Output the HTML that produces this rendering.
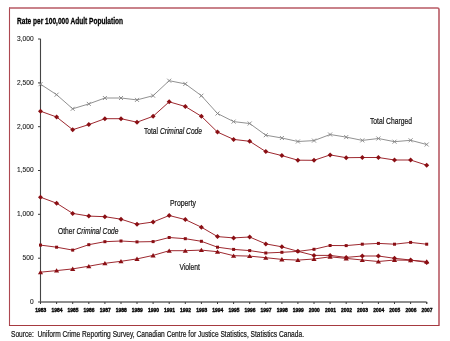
<!DOCTYPE html>
<html><head><meta charset="utf-8"><style>
html,body{margin:0;padding:0;background:#fff;width:450px;height:341px;overflow:hidden;}
svg{display:block;will-change:transform;font-family:"Liberation Sans", sans-serif;}
</style></head><body><svg width="450" height="341" viewBox="0 0 450 341"><path d="M9.5,7.6V326" stroke="#ad4850" stroke-width="1.1"/><path d="M9,8H437.5Q439,8 439,9.5V326" fill="none" stroke="#b85a64" stroke-width="1.6"/><path d="M9,325.5H439" stroke="#a63a40" stroke-width="1.1"/><text x="17" y="23.7" font-family="Liberation Sans, sans-serif" font-size="8.7" font-weight="bold" textLength="106" stroke="#000" stroke-width="0.3" lengthAdjust="spacingAndGlyphs" fill="#000">Rate per 100,000 Adult Population</text><path d="M40.5,38.8V302" fill="none" stroke="#444" stroke-width="1.1"/><path d="M40.5,302H425.8Q426.9,302 426.9,303.4" fill="none" stroke="#6a6a6a" stroke-width="1.5"/><path d="M38,302.0H40.3" stroke="#3a3a3a" stroke-width="1"/><text x="33.6" y="303.8" font-family="Liberation Sans, sans-serif" font-size="7.2" text-anchor="end" fill="#222" stroke="#222" stroke-width="0.12" textLength="3.68" lengthAdjust="spacingAndGlyphs">0</text><path d="M38,258.2H40.3" stroke="#3a3a3a" stroke-width="1"/><text x="33.6" y="260.0" font-family="Liberation Sans, sans-serif" font-size="7.2" text-anchor="end" fill="#222" stroke="#222" stroke-width="0.12" textLength="11.05" lengthAdjust="spacingAndGlyphs">500</text><path d="M38,214.3H40.3" stroke="#3a3a3a" stroke-width="1"/><text x="33.6" y="216.1" font-family="Liberation Sans, sans-serif" font-size="7.2" text-anchor="end" fill="#222" stroke="#222" stroke-width="0.12" textLength="16.57" lengthAdjust="spacingAndGlyphs">1,000</text><path d="M38,170.5H40.3" stroke="#3a3a3a" stroke-width="1"/><text x="33.6" y="172.3" font-family="Liberation Sans, sans-serif" font-size="7.2" text-anchor="end" fill="#222" stroke="#222" stroke-width="0.12" textLength="16.57" lengthAdjust="spacingAndGlyphs">1,500</text><path d="M38,126.7H40.3" stroke="#3a3a3a" stroke-width="1"/><text x="33.6" y="128.5" font-family="Liberation Sans, sans-serif" font-size="7.2" text-anchor="end" fill="#222" stroke="#222" stroke-width="0.12" textLength="16.57" lengthAdjust="spacingAndGlyphs">2,000</text><path d="M38,82.9H40.3" stroke="#3a3a3a" stroke-width="1"/><text x="33.6" y="84.7" font-family="Liberation Sans, sans-serif" font-size="7.2" text-anchor="end" fill="#222" stroke="#222" stroke-width="0.12" textLength="16.57" lengthAdjust="spacingAndGlyphs">2,500</text><path d="M38,39.0H40.3" stroke="#3a3a3a" stroke-width="1"/><text x="33.6" y="40.8" font-family="Liberation Sans, sans-serif" font-size="7.2" text-anchor="end" fill="#222" stroke="#222" stroke-width="0.12" textLength="16.57" lengthAdjust="spacingAndGlyphs">3,000</text><path d="M40.5,302.0V304.0" stroke="#3a3a3a" stroke-width="1"/><text x="40.8" y="311.9" font-family="Liberation Sans, sans-serif" font-size="6.0" font-weight="bold" text-anchor="middle" textLength="11" stroke="#000" stroke-width="0.4" lengthAdjust="spacingAndGlyphs" fill="#111">1983</text><path d="M56.6,302.0V304.0" stroke="#3a3a3a" stroke-width="1"/><text x="56.9" y="311.9" font-family="Liberation Sans, sans-serif" font-size="6.0" font-weight="bold" text-anchor="middle" textLength="11" stroke="#000" stroke-width="0.4" lengthAdjust="spacingAndGlyphs" fill="#111">1984</text><path d="M72.7,302.0V304.0" stroke="#3a3a3a" stroke-width="1"/><text x="73.0" y="311.9" font-family="Liberation Sans, sans-serif" font-size="6.0" font-weight="bold" text-anchor="middle" textLength="11" stroke="#000" stroke-width="0.4" lengthAdjust="spacingAndGlyphs" fill="#111">1985</text><path d="M88.8,302.0V304.0" stroke="#3a3a3a" stroke-width="1"/><text x="89.1" y="311.9" font-family="Liberation Sans, sans-serif" font-size="6.0" font-weight="bold" text-anchor="middle" textLength="11" stroke="#000" stroke-width="0.4" lengthAdjust="spacingAndGlyphs" fill="#111">1986</text><path d="M104.9,302.0V304.0" stroke="#3a3a3a" stroke-width="1"/><text x="105.2" y="311.9" font-family="Liberation Sans, sans-serif" font-size="6.0" font-weight="bold" text-anchor="middle" textLength="11" stroke="#000" stroke-width="0.4" lengthAdjust="spacingAndGlyphs" fill="#111">1987</text><path d="M121.0,302.0V304.0" stroke="#3a3a3a" stroke-width="1"/><text x="121.2" y="311.9" font-family="Liberation Sans, sans-serif" font-size="6.0" font-weight="bold" text-anchor="middle" textLength="11" stroke="#000" stroke-width="0.4" lengthAdjust="spacingAndGlyphs" fill="#111">1988</text><path d="M137.0,302.0V304.0" stroke="#3a3a3a" stroke-width="1"/><text x="137.3" y="311.9" font-family="Liberation Sans, sans-serif" font-size="6.0" font-weight="bold" text-anchor="middle" textLength="11" stroke="#000" stroke-width="0.4" lengthAdjust="spacingAndGlyphs" fill="#111">1989</text><path d="M153.1,302.0V304.0" stroke="#3a3a3a" stroke-width="1"/><text x="153.4" y="311.9" font-family="Liberation Sans, sans-serif" font-size="6.0" font-weight="bold" text-anchor="middle" textLength="11" stroke="#000" stroke-width="0.4" lengthAdjust="spacingAndGlyphs" fill="#111">1990</text><path d="M169.2,302.0V304.0" stroke="#3a3a3a" stroke-width="1"/><text x="169.5" y="311.9" font-family="Liberation Sans, sans-serif" font-size="6.0" font-weight="bold" text-anchor="middle" textLength="11" stroke="#000" stroke-width="0.4" lengthAdjust="spacingAndGlyphs" fill="#111">1991</text><path d="M185.3,302.0V304.0" stroke="#3a3a3a" stroke-width="1"/><text x="185.6" y="311.9" font-family="Liberation Sans, sans-serif" font-size="6.0" font-weight="bold" text-anchor="middle" textLength="11" stroke="#000" stroke-width="0.4" lengthAdjust="spacingAndGlyphs" fill="#111">1992</text><path d="M201.4,302.0V304.0" stroke="#3a3a3a" stroke-width="1"/><text x="201.7" y="311.9" font-family="Liberation Sans, sans-serif" font-size="6.0" font-weight="bold" text-anchor="middle" textLength="11" stroke="#000" stroke-width="0.4" lengthAdjust="spacingAndGlyphs" fill="#111">1993</text><path d="M217.5,302.0V304.0" stroke="#3a3a3a" stroke-width="1"/><text x="217.8" y="311.9" font-family="Liberation Sans, sans-serif" font-size="6.0" font-weight="bold" text-anchor="middle" textLength="11" stroke="#000" stroke-width="0.4" lengthAdjust="spacingAndGlyphs" fill="#111">1994</text><path d="M233.6,302.0V304.0" stroke="#3a3a3a" stroke-width="1"/><text x="233.9" y="311.9" font-family="Liberation Sans, sans-serif" font-size="6.0" font-weight="bold" text-anchor="middle" textLength="11" stroke="#000" stroke-width="0.4" lengthAdjust="spacingAndGlyphs" fill="#111">1995</text><path d="M249.7,302.0V304.0" stroke="#3a3a3a" stroke-width="1"/><text x="250.0" y="311.9" font-family="Liberation Sans, sans-serif" font-size="6.0" font-weight="bold" text-anchor="middle" textLength="11" stroke="#000" stroke-width="0.4" lengthAdjust="spacingAndGlyphs" fill="#111">1996</text><path d="M265.8,302.0V304.0" stroke="#3a3a3a" stroke-width="1"/><text x="266.1" y="311.9" font-family="Liberation Sans, sans-serif" font-size="6.0" font-weight="bold" text-anchor="middle" textLength="11" stroke="#000" stroke-width="0.4" lengthAdjust="spacingAndGlyphs" fill="#111">1997</text><path d="M281.9,302.0V304.0" stroke="#3a3a3a" stroke-width="1"/><text x="282.2" y="311.9" font-family="Liberation Sans, sans-serif" font-size="6.0" font-weight="bold" text-anchor="middle" textLength="11" stroke="#000" stroke-width="0.4" lengthAdjust="spacingAndGlyphs" fill="#111">1998</text><path d="M297.9,302.0V304.0" stroke="#3a3a3a" stroke-width="1"/><text x="298.2" y="311.9" font-family="Liberation Sans, sans-serif" font-size="6.0" font-weight="bold" text-anchor="middle" textLength="11" stroke="#000" stroke-width="0.4" lengthAdjust="spacingAndGlyphs" fill="#111">1999</text><path d="M314.0,302.0V304.0" stroke="#3a3a3a" stroke-width="1"/><text x="314.3" y="311.9" font-family="Liberation Sans, sans-serif" font-size="6.0" font-weight="bold" text-anchor="middle" textLength="11" stroke="#000" stroke-width="0.4" lengthAdjust="spacingAndGlyphs" fill="#111">2000</text><path d="M330.1,302.0V304.0" stroke="#3a3a3a" stroke-width="1"/><text x="330.4" y="311.9" font-family="Liberation Sans, sans-serif" font-size="6.0" font-weight="bold" text-anchor="middle" textLength="11" stroke="#000" stroke-width="0.4" lengthAdjust="spacingAndGlyphs" fill="#111">2001</text><path d="M346.2,302.0V304.0" stroke="#3a3a3a" stroke-width="1"/><text x="346.5" y="311.9" font-family="Liberation Sans, sans-serif" font-size="6.0" font-weight="bold" text-anchor="middle" textLength="11" stroke="#000" stroke-width="0.4" lengthAdjust="spacingAndGlyphs" fill="#111">2002</text><path d="M362.3,302.0V304.0" stroke="#3a3a3a" stroke-width="1"/><text x="362.6" y="311.9" font-family="Liberation Sans, sans-serif" font-size="6.0" font-weight="bold" text-anchor="middle" textLength="11" stroke="#000" stroke-width="0.4" lengthAdjust="spacingAndGlyphs" fill="#111">2003</text><path d="M378.4,302.0V304.0" stroke="#3a3a3a" stroke-width="1"/><text x="378.7" y="311.9" font-family="Liberation Sans, sans-serif" font-size="6.0" font-weight="bold" text-anchor="middle" textLength="11" stroke="#000" stroke-width="0.4" lengthAdjust="spacingAndGlyphs" fill="#111">2004</text><path d="M394.5,302.0V304.0" stroke="#3a3a3a" stroke-width="1"/><text x="394.8" y="311.9" font-family="Liberation Sans, sans-serif" font-size="6.0" font-weight="bold" text-anchor="middle" textLength="11" stroke="#000" stroke-width="0.4" lengthAdjust="spacingAndGlyphs" fill="#111">2005</text><path d="M410.6,302.0V304.0" stroke="#3a3a3a" stroke-width="1"/><text x="410.9" y="311.9" font-family="Liberation Sans, sans-serif" font-size="6.0" font-weight="bold" text-anchor="middle" textLength="11" stroke="#000" stroke-width="0.4" lengthAdjust="spacingAndGlyphs" fill="#111">2006</text><path d="M426.7,302.0V304.0" stroke="#3a3a3a" stroke-width="1"/><text x="427.0" y="311.9" font-family="Liberation Sans, sans-serif" font-size="6.0" font-weight="bold" text-anchor="middle" textLength="11" stroke="#000" stroke-width="0.4" lengthAdjust="spacingAndGlyphs" fill="#111">2007</text><polyline points="40.5,84.2 56.6,94.7 72.7,108.8 88.8,103.9 104.9,98.0 121.0,98.0 137.0,99.9 153.1,95.7 169.2,80.7 185.3,83.9 201.4,95.7 217.5,113.5 233.6,121.6 249.7,123.5 265.8,135.2 281.9,138.0 297.9,141.5 314.0,140.6 330.1,134.5 346.2,137.1 362.3,140.4 378.4,138.5 394.5,141.7 410.6,140.3 426.7,144.5" fill="none" stroke="#858585" stroke-width="0.9" stroke-linejoin="round"/><path d="M38.5,82.2L42.5,86.2M42.5,82.2L38.5,86.2" stroke="#858585" stroke-width="0.9" fill="none"/><path d="M54.6,92.7L58.6,96.7M58.6,92.7L54.6,96.7" stroke="#858585" stroke-width="0.9" fill="none"/><path d="M70.7,106.8L74.7,110.8M74.7,106.8L70.7,110.8" stroke="#858585" stroke-width="0.9" fill="none"/><path d="M86.8,101.9L90.8,105.9M90.8,101.9L86.8,105.9" stroke="#858585" stroke-width="0.9" fill="none"/><path d="M102.9,96.0L106.9,100.0M106.9,96.0L102.9,100.0" stroke="#858585" stroke-width="0.9" fill="none"/><path d="M119.0,96.0L123.0,100.0M123.0,96.0L119.0,100.0" stroke="#858585" stroke-width="0.9" fill="none"/><path d="M135.0,97.9L139.0,101.9M139.0,97.9L135.0,101.9" stroke="#858585" stroke-width="0.9" fill="none"/><path d="M151.1,93.7L155.1,97.7M155.1,93.7L151.1,97.7" stroke="#858585" stroke-width="0.9" fill="none"/><path d="M167.2,78.7L171.2,82.7M171.2,78.7L167.2,82.7" stroke="#858585" stroke-width="0.9" fill="none"/><path d="M183.3,81.9L187.3,85.9M187.3,81.9L183.3,85.9" stroke="#858585" stroke-width="0.9" fill="none"/><path d="M199.4,93.7L203.4,97.7M203.4,93.7L199.4,97.7" stroke="#858585" stroke-width="0.9" fill="none"/><path d="M215.5,111.5L219.5,115.5M219.5,111.5L215.5,115.5" stroke="#858585" stroke-width="0.9" fill="none"/><path d="M231.6,119.6L235.6,123.6M235.6,119.6L231.6,123.6" stroke="#858585" stroke-width="0.9" fill="none"/><path d="M247.7,121.5L251.7,125.5M251.7,121.5L247.7,125.5" stroke="#858585" stroke-width="0.9" fill="none"/><path d="M263.8,133.2L267.8,137.2M267.8,133.2L263.8,137.2" stroke="#858585" stroke-width="0.9" fill="none"/><path d="M279.9,136.0L283.9,140.0M283.9,136.0L279.9,140.0" stroke="#858585" stroke-width="0.9" fill="none"/><path d="M295.9,139.5L299.9,143.5M299.9,139.5L295.9,143.5" stroke="#858585" stroke-width="0.9" fill="none"/><path d="M312.0,138.6L316.0,142.6M316.0,138.6L312.0,142.6" stroke="#858585" stroke-width="0.9" fill="none"/><path d="M328.1,132.5L332.1,136.5M332.1,132.5L328.1,136.5" stroke="#858585" stroke-width="0.9" fill="none"/><path d="M344.2,135.1L348.2,139.1M348.2,135.1L344.2,139.1" stroke="#858585" stroke-width="0.9" fill="none"/><path d="M360.3,138.4L364.3,142.4M364.3,138.4L360.3,142.4" stroke="#858585" stroke-width="0.9" fill="none"/><path d="M376.4,136.5L380.4,140.5M380.4,136.5L376.4,140.5" stroke="#858585" stroke-width="0.9" fill="none"/><path d="M392.5,139.7L396.5,143.7M396.5,139.7L392.5,143.7" stroke="#858585" stroke-width="0.9" fill="none"/><path d="M408.6,138.3L412.6,142.3M412.6,138.3L408.6,142.3" stroke="#858585" stroke-width="0.9" fill="none"/><path d="M424.7,142.5L428.7,146.5M428.7,142.5L424.7,146.5" stroke="#858585" stroke-width="0.9" fill="none"/><polyline points="40.5,111.2 56.6,117.0 72.7,129.7 88.8,124.6 104.9,118.7 121.0,118.7 137.0,122.2 153.1,116.3 169.2,101.8 185.3,106.5 201.4,116.3 217.5,132.1 233.6,139.4 249.7,141.3 265.8,151.6 281.9,155.6 297.9,160.2 314.0,160.3 330.1,154.9 346.2,157.7 362.3,157.5 378.4,157.5 394.5,160.0 410.6,160.0 426.7,165.2" fill="none" stroke="#981c24" stroke-width="0.95" stroke-linejoin="round"/><path d="M40.5,108.7L43.0,111.2L40.5,113.7L38.0,111.2Z" fill="#8a0f14"/><path d="M56.6,114.5L59.1,117.0L56.6,119.5L54.1,117.0Z" fill="#8a0f14"/><path d="M72.7,127.2L75.2,129.7L72.7,132.2L70.2,129.7Z" fill="#8a0f14"/><path d="M88.8,122.1L91.3,124.6L88.8,127.1L86.3,124.6Z" fill="#8a0f14"/><path d="M104.9,116.2L107.4,118.7L104.9,121.2L102.4,118.7Z" fill="#8a0f14"/><path d="M121.0,116.2L123.5,118.7L121.0,121.2L118.5,118.7Z" fill="#8a0f14"/><path d="M137.0,119.7L139.5,122.2L137.0,124.7L134.5,122.2Z" fill="#8a0f14"/><path d="M153.1,113.8L155.6,116.3L153.1,118.8L150.6,116.3Z" fill="#8a0f14"/><path d="M169.2,99.3L171.7,101.8L169.2,104.3L166.7,101.8Z" fill="#8a0f14"/><path d="M185.3,104.0L187.8,106.5L185.3,109.0L182.8,106.5Z" fill="#8a0f14"/><path d="M201.4,113.8L203.9,116.3L201.4,118.8L198.9,116.3Z" fill="#8a0f14"/><path d="M217.5,129.6L220.0,132.1L217.5,134.6L215.0,132.1Z" fill="#8a0f14"/><path d="M233.6,136.9L236.1,139.4L233.6,141.9L231.1,139.4Z" fill="#8a0f14"/><path d="M249.7,138.8L252.2,141.3L249.7,143.8L247.2,141.3Z" fill="#8a0f14"/><path d="M265.8,149.1L268.3,151.6L265.8,154.1L263.3,151.6Z" fill="#8a0f14"/><path d="M281.9,153.1L284.4,155.6L281.9,158.1L279.4,155.6Z" fill="#8a0f14"/><path d="M297.9,157.7L300.4,160.2L297.9,162.7L295.4,160.2Z" fill="#8a0f14"/><path d="M314.0,157.8L316.5,160.3L314.0,162.8L311.5,160.3Z" fill="#8a0f14"/><path d="M330.1,152.4L332.6,154.9L330.1,157.4L327.6,154.9Z" fill="#8a0f14"/><path d="M346.2,155.2L348.7,157.7L346.2,160.2L343.7,157.7Z" fill="#8a0f14"/><path d="M362.3,155.0L364.8,157.5L362.3,160.0L359.8,157.5Z" fill="#8a0f14"/><path d="M378.4,155.0L380.9,157.5L378.4,160.0L375.9,157.5Z" fill="#8a0f14"/><path d="M394.5,157.5L397.0,160.0L394.5,162.5L392.0,160.0Z" fill="#8a0f14"/><path d="M410.6,157.5L413.1,160.0L410.6,162.5L408.1,160.0Z" fill="#8a0f14"/><path d="M426.7,162.7L429.2,165.2L426.7,167.7L424.2,165.2Z" fill="#8a0f14"/><polyline points="40.5,197.2 56.6,203.2 72.7,213.4 88.8,216.1 104.9,216.7 121.0,219.2 137.0,224.3 153.1,222.0 169.2,215.5 185.3,219.6 201.4,227.2 217.5,236.6 233.6,237.9 249.7,237.0 265.8,243.9 281.9,246.8 297.9,251.3 314.0,255.4 330.1,255.4 346.2,257.4 362.3,256.0 378.4,256.0 394.5,258.3 410.6,260.0 426.7,262.4" fill="none" stroke="#981c24" stroke-width="0.95" stroke-linejoin="round"/><path d="M40.5,194.7L43.0,197.2L40.5,199.7L38.0,197.2Z" fill="#8a0f14"/><path d="M56.6,200.7L59.1,203.2L56.6,205.7L54.1,203.2Z" fill="#8a0f14"/><path d="M72.7,210.9L75.2,213.4L72.7,215.9L70.2,213.4Z" fill="#8a0f14"/><path d="M88.8,213.6L91.3,216.1L88.8,218.6L86.3,216.1Z" fill="#8a0f14"/><path d="M104.9,214.2L107.4,216.7L104.9,219.2L102.4,216.7Z" fill="#8a0f14"/><path d="M121.0,216.7L123.5,219.2L121.0,221.7L118.5,219.2Z" fill="#8a0f14"/><path d="M137.0,221.8L139.5,224.3L137.0,226.8L134.5,224.3Z" fill="#8a0f14"/><path d="M153.1,219.5L155.6,222.0L153.1,224.5L150.6,222.0Z" fill="#8a0f14"/><path d="M169.2,213.0L171.7,215.5L169.2,218.0L166.7,215.5Z" fill="#8a0f14"/><path d="M185.3,217.1L187.8,219.6L185.3,222.1L182.8,219.6Z" fill="#8a0f14"/><path d="M201.4,224.7L203.9,227.2L201.4,229.7L198.9,227.2Z" fill="#8a0f14"/><path d="M217.5,234.1L220.0,236.6L217.5,239.1L215.0,236.6Z" fill="#8a0f14"/><path d="M233.6,235.4L236.1,237.9L233.6,240.4L231.1,237.9Z" fill="#8a0f14"/><path d="M249.7,234.5L252.2,237.0L249.7,239.5L247.2,237.0Z" fill="#8a0f14"/><path d="M265.8,241.4L268.3,243.9L265.8,246.4L263.3,243.9Z" fill="#8a0f14"/><path d="M281.9,244.3L284.4,246.8L281.9,249.3L279.4,246.8Z" fill="#8a0f14"/><path d="M297.9,248.8L300.4,251.3L297.9,253.8L295.4,251.3Z" fill="#8a0f14"/><path d="M314.0,252.9L316.5,255.4L314.0,257.9L311.5,255.4Z" fill="#8a0f14"/><path d="M330.1,252.9L332.6,255.4L330.1,257.9L327.6,255.4Z" fill="#8a0f14"/><path d="M346.2,254.9L348.7,257.4L346.2,259.9L343.7,257.4Z" fill="#8a0f14"/><path d="M362.3,253.5L364.8,256.0L362.3,258.5L359.8,256.0Z" fill="#8a0f14"/><path d="M378.4,253.5L380.9,256.0L378.4,258.5L375.9,256.0Z" fill="#8a0f14"/><path d="M394.5,255.8L397.0,258.3L394.5,260.8L392.0,258.3Z" fill="#8a0f14"/><path d="M410.6,257.5L413.1,260.0L410.6,262.5L408.1,260.0Z" fill="#8a0f14"/><path d="M426.7,259.9L429.2,262.4L426.7,264.9L424.2,262.4Z" fill="#8a0f14"/><polyline points="40.5,245.1 56.6,247.2 72.7,250.1 88.8,244.7 104.9,241.7 121.0,241.0 137.0,241.9 153.1,241.6 169.2,237.5 185.3,238.7 201.4,241.3 217.5,247.2 233.6,249.4 249.7,250.6 265.8,253.0 281.9,252.3 297.9,251.4 314.0,249.3 330.1,245.5 346.2,245.6 362.3,244.2 378.4,243.4 394.5,244.2 410.6,242.4 426.7,244.2" fill="none" stroke="#981c24" stroke-width="0.95" stroke-linejoin="round"/><rect x="39.0" y="243.6" width="3.0" height="3.0" fill="#8a0f14"/><rect x="55.1" y="245.7" width="3.0" height="3.0" fill="#8a0f14"/><rect x="71.2" y="248.6" width="3.0" height="3.0" fill="#8a0f14"/><rect x="87.3" y="243.2" width="3.0" height="3.0" fill="#8a0f14"/><rect x="103.4" y="240.2" width="3.0" height="3.0" fill="#8a0f14"/><rect x="119.5" y="239.5" width="3.0" height="3.0" fill="#8a0f14"/><rect x="135.5" y="240.4" width="3.0" height="3.0" fill="#8a0f14"/><rect x="151.6" y="240.1" width="3.0" height="3.0" fill="#8a0f14"/><rect x="167.7" y="236.0" width="3.0" height="3.0" fill="#8a0f14"/><rect x="183.8" y="237.2" width="3.0" height="3.0" fill="#8a0f14"/><rect x="199.9" y="239.8" width="3.0" height="3.0" fill="#8a0f14"/><rect x="216.0" y="245.7" width="3.0" height="3.0" fill="#8a0f14"/><rect x="232.1" y="247.9" width="3.0" height="3.0" fill="#8a0f14"/><rect x="248.2" y="249.1" width="3.0" height="3.0" fill="#8a0f14"/><rect x="264.3" y="251.5" width="3.0" height="3.0" fill="#8a0f14"/><rect x="280.4" y="250.8" width="3.0" height="3.0" fill="#8a0f14"/><rect x="296.4" y="249.9" width="3.0" height="3.0" fill="#8a0f14"/><rect x="312.5" y="247.8" width="3.0" height="3.0" fill="#8a0f14"/><rect x="328.6" y="244.0" width="3.0" height="3.0" fill="#8a0f14"/><rect x="344.7" y="244.1" width="3.0" height="3.0" fill="#8a0f14"/><rect x="360.8" y="242.7" width="3.0" height="3.0" fill="#8a0f14"/><rect x="376.9" y="241.9" width="3.0" height="3.0" fill="#8a0f14"/><rect x="393.0" y="242.7" width="3.0" height="3.0" fill="#8a0f14"/><rect x="409.1" y="240.9" width="3.0" height="3.0" fill="#8a0f14"/><rect x="425.2" y="242.7" width="3.0" height="3.0" fill="#8a0f14"/><polyline points="40.5,272.2 56.6,270.6 72.7,268.9 88.8,266.2 104.9,263.3 121.0,261.3 137.0,258.9 153.1,255.4 169.2,250.7 185.3,250.7 201.4,250.1 217.5,251.7 233.6,255.7 249.7,256.1 265.8,257.7 281.9,259.4 297.9,260.1 314.0,259.0 330.1,256.8 346.2,258.4 362.3,260.0 378.4,261.5 394.5,260.0 410.6,260.3 426.7,261.5" fill="none" stroke="#981c24" stroke-width="0.95" stroke-linejoin="round"/><path d="M40.5,269.9L43.1,274.2L37.9,274.2Z" fill="#8a0f14"/><path d="M56.6,268.3L59.2,272.6L54.0,272.6Z" fill="#8a0f14"/><path d="M72.7,266.6L75.3,270.9L70.1,270.9Z" fill="#8a0f14"/><path d="M88.8,263.9L91.4,268.2L86.2,268.2Z" fill="#8a0f14"/><path d="M104.9,261.0L107.5,265.3L102.3,265.3Z" fill="#8a0f14"/><path d="M121.0,259.0L123.5,263.3L118.4,263.3Z" fill="#8a0f14"/><path d="M137.0,256.6L139.6,260.9L134.4,260.9Z" fill="#8a0f14"/><path d="M153.1,253.1L155.7,257.4L150.5,257.4Z" fill="#8a0f14"/><path d="M169.2,248.4L171.8,252.7L166.6,252.7Z" fill="#8a0f14"/><path d="M185.3,248.4L187.9,252.7L182.7,252.7Z" fill="#8a0f14"/><path d="M201.4,247.8L204.0,252.1L198.8,252.1Z" fill="#8a0f14"/><path d="M217.5,249.4L220.1,253.7L214.9,253.7Z" fill="#8a0f14"/><path d="M233.6,253.4L236.2,257.7L231.0,257.7Z" fill="#8a0f14"/><path d="M249.7,253.8L252.3,258.1L247.1,258.1Z" fill="#8a0f14"/><path d="M265.8,255.4L268.4,259.7L263.2,259.7Z" fill="#8a0f14"/><path d="M281.9,257.1L284.5,261.4L279.2,261.4Z" fill="#8a0f14"/><path d="M297.9,257.8L300.5,262.1L295.3,262.1Z" fill="#8a0f14"/><path d="M314.0,256.7L316.6,261.0L311.4,261.0Z" fill="#8a0f14"/><path d="M330.1,254.5L332.7,258.8L327.5,258.8Z" fill="#8a0f14"/><path d="M346.2,256.1L348.8,260.4L343.6,260.4Z" fill="#8a0f14"/><path d="M362.3,257.7L364.9,262.0L359.7,262.0Z" fill="#8a0f14"/><path d="M378.4,259.2L381.0,263.5L375.8,263.5Z" fill="#8a0f14"/><path d="M394.5,257.7L397.1,262.0L391.9,262.0Z" fill="#8a0f14"/><path d="M410.6,258.0L413.2,262.3L408.0,262.3Z" fill="#8a0f14"/><path d="M426.7,259.2L429.3,263.5L424.1,263.5Z" fill="#8a0f14"/><text x="370" y="124.2" font-family="Liberation Sans, sans-serif" font-size="9" fill="#111" stroke="#111" stroke-width="0.2" textLength="42" lengthAdjust="spacingAndGlyphs">Total Charged</text><text x="144" y="133.8" font-family="Liberation Sans, sans-serif" font-size="9" fill="#111" stroke="#111" stroke-width="0.2" textLength="58" lengthAdjust="spacingAndGlyphs">Total <tspan font-style="italic">Criminal Code</tspan></text><text x="170" y="205.8" font-family="Liberation Sans, sans-serif" font-size="9" fill="#111" stroke="#111" stroke-width="0.2" textLength="26" lengthAdjust="spacingAndGlyphs">Property</text><text x="58" y="233.8" font-family="Liberation Sans, sans-serif" font-size="9" fill="#111" stroke="#111" stroke-width="0.2" textLength="60.5" lengthAdjust="spacingAndGlyphs">Other <tspan font-style="italic">Criminal Code</tspan></text><text x="179.5" y="270" font-family="Liberation Sans, sans-serif" font-size="9" fill="#111" stroke="#111" stroke-width="0.2" textLength="20.5" lengthAdjust="spacingAndGlyphs">Violent</text><text x="11" y="337.2" font-family="Liberation Sans, sans-serif" font-size="9" fill="#111" stroke="#111" stroke-width="0.2" textLength="293" lengthAdjust="spacingAndGlyphs" style="white-space:pre">Source:  Uniform Crime Reporting Survey, Canadian Centre for Justice Statistics, Statistics Canada.</text></svg></body></html>
